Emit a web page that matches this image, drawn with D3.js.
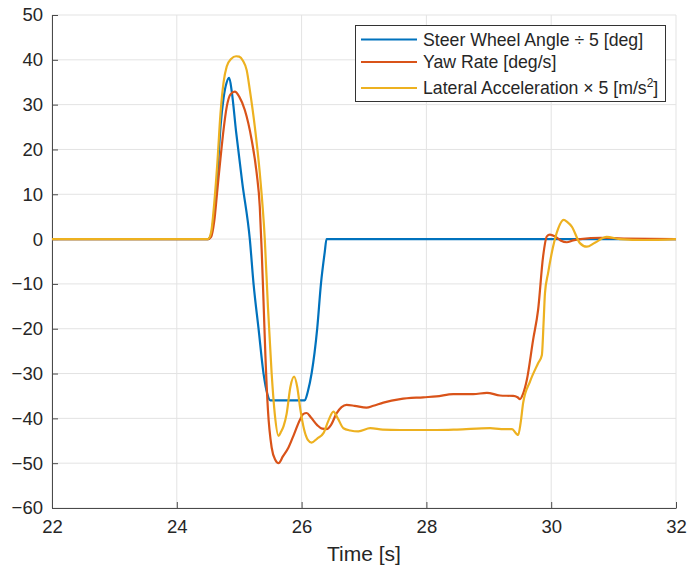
<!DOCTYPE html>
<html>
<head>
<meta charset="utf-8">
<script src="https://cdn.jsdelivr.net/npm/d3@7/dist/d3.min.js"></script>
<style>
  html, body { margin: 0; padding: 0; background: #fff; }
  svg { display: block; font-family: "Liberation Sans", Arial, Helvetica, sans-serif; }
</style>
</head>
<body>
<svg id="chart" width="688" height="572"></svg>
<script>
// Time stamps [s] and values for each signal
const steerT = [22, 24.5, 24.55, 24.6, 24.65, 24.7, 24.75, 24.8, 24.84, 24.88, 24.95, 25.05, 25.17, 25.23, 25.31, 25.39, 25.45, 25.5, 26.05, 26.1, 26.16, 26.25, 26.31, 26.37, 26.4, 32];
const steerV = [0, 0, 1, 6, 14, 25, 31.5, 35, 36, 33, 24, 12.5, 0, -10, -20, -30, -34.5, -36, -36, -34, -30, -20, -10, -3, 0, 0];

const yawT = [22, 24.5, 24.55, 24.6, 24.65, 24.7, 24.75, 24.8, 24.86, 24.93, 25.0, 25.09, 25.2, 25.28, 25.33, 25.36, 25.39, 25.42, 25.46, 25.52, 25.58, 25.63, 25.7, 25.79, 25.88, 25.97, 26.03, 26.08, 26.15, 26.25, 26.33, 26.4, 26.47, 26.56, 26.64, 26.72, 26.85, 27.04, 27.15, 27.31, 27.58, 27.95, 28.16, 28.43, 28.75, 28.97, 29.18, 29.39, 29.46, 29.5, 29.55, 29.61, 29.71, 29.79, 29.87, 29.93, 29.98, 30.06, 30.15, 30.25, 30.35, 30.47, 30.8, 31.2, 32];
const yawV = [0, 0, 0.5, 4, 11, 18, 24.5, 29.5, 32.3, 32.9, 31.8, 28.8, 22.1, 14.7, 7.2, -2.4, -14, -26, -38, -46.5, -49.3, -50, -48.5, -46.5, -43.5, -40.4, -39, -38.8, -39.8, -41.5, -42.3, -42.4, -41.5, -38.9, -37.5, -37.0, -37.2, -37.6, -37.2, -36.5, -35.7, -35.3, -35.1, -34.6, -34.6, -34.3, -34.9, -35.0, -35.3, -35.7, -34.5, -31.4, -22.5, -15.8, -3.9, 0.6, 1.0, 0.6, -0.3, -0.7, -0.3, 0, 0.3, 0.1, 0];

const latT = [22, 24.5, 24.55, 24.6, 24.65, 24.7, 24.75, 24.8, 24.87, 24.95, 25.0, 25.06, 25.12, 25.17, 25.25, 25.33, 25.41, 25.46, 25.52, 25.57, 25.63, 25.67, 25.71, 25.76, 25.82, 25.88, 25.93, 25.98, 26.04, 26.1, 26.16, 26.25, 26.35, 26.43, 26.51, 26.58, 26.67, 26.78, 26.91, 27.1, 27.3, 27.58, 28.16, 28.49, 29.02, 29.2, 29.37, 29.47, 29.51, 29.55, 29.66, 29.79, 29.85, 29.88, 29.9, 29.95, 30.03, 30.11, 30.2, 30.26, 30.33, 30.46, 30.57, 30.7, 30.89, 31.1, 31.5, 32];
const latV = [0, 0, 1.5, 8, 17, 28, 35, 38.5, 40.2, 40.8, 40.7, 39.8, 37.7, 33.3, 25.1, 14.7, 0, -15, -30, -39, -43.9, -43, -41.8, -39, -33, -30.7, -33, -38, -42.5, -44.8, -45.4, -44.5, -43.3, -40.5, -38.5, -40, -42.2, -42.7, -42.9, -42.2, -42.5, -42.6, -42.6, -42.5, -42.2, -42.4, -42.4, -43.7, -41, -36.6, -31.8, -27.7, -25.9, -18, -12.1, -7.6, -1.7, 2.3, 4.3, 3.8, 2.8, -0.9, -1.7, -0.8, 0.5, 0, -0.2, 0];

const xTicks = [22, 24, 26, 28, 30, 32];
const yTicks = [-60, -50, -40, -30, -20, -10, 0, 10, 20, 30, 40, 50];

const seriesNames = ["Steer Wheel Angle \u00F7 5 [deg]", "Yaw Rate [deg/s]", "Lateral Acceleration \u00D7 5 [m/s", "2", "]"];
const seriesColors = ["#0072BD", "#D95319", "#EDB120"];

const svg = d3.select("#chart");
const margin = { left: 52, right: 12, top: 15, bottom: 64 };
const W = 688, H = 572;

const x = d3.scaleLinear().domain([22, 32]).range([margin.left, W - margin.right]);
const y = d3.scaleLinear().domain([-60, 50]).range([H - margin.bottom, margin.top]);

// grid
const grid = svg.append("g");
grid.selectAll("line.gx").data(xTicks).join("line")
  .attr("x1", d => x(d)).attr("x2", d => x(d))
  .attr("y1", y(-60)).attr("y2", y(50))
  .attr("stroke", "#e3e3e3").attr("stroke-width", 1);
grid.selectAll("line.gy").data(yTicks).join("line")
  .attr("y1", d => y(d)).attr("y2", d => y(d))
  .attr("x1", x(22)).attr("x2", x(32))
  .attr("stroke", "#e3e3e3").attr("stroke-width", 1);

// axes
const xAxis = d3.axisBottom(x).tickValues(xTicks).tickSizeInner(-6).tickSizeOuter(0).tickPadding(12).tickFormat(d3.format("d"));
const yAxis = d3.axisLeft(y).tickValues(yTicks).tickSizeInner(-6).tickSizeOuter(0).tickPadding(9).tickFormat(d3.format("d"));

const gx = svg.append("g").attr("transform", `translate(0,${y(-60)})`).call(xAxis);
const gy = svg.append("g").attr("transform", `translate(${x(22)},0)`).call(yAxis);
[gx, gy].forEach(g => {
  g.select(".domain").attr("stroke", "#4a4a4a").attr("stroke-width", 1);
  g.selectAll(".tick line").attr("stroke", "#4a4a4a");
  g.selectAll(".tick text").attr("fill", "#262626").attr("font-size", 18.5)
    .attr("font-family", "'Liberation Sans', Arial, sans-serif");
});

svg.append("text")
  .attr("x", (x(22) + x(32)) / 2).attr("y", 561)
  .attr("text-anchor", "middle").attr("fill", "#262626").attr("font-size", 21)
  .text("Time [s]");

// lines
const series = [
  { t: steerT, v: steerV },
  { t: yawT, v: yawV },
  { t: latT, v: latV }
];
const line = d3.line().x(d => x(d[0])).y(d => y(d[1])).curve(d3.curveMonotoneX);
const plot = svg.append("g");
series.forEach((s, i) => {
  const pts = s.t.map((t, k) => [t, s.v[k]]);
  plot.append("path").datum(pts)
    .attr("d", line)
    .attr("fill", "none")
    .attr("stroke", seriesColors[i])
    .attr("stroke-width", 2.2)
    .attr("stroke-linejoin", "round");
});

// legend
const lg = svg.append("g");
lg.append("rect").attr("x", 355.5).attr("y", 25.5).attr("width", 310).attr("height", 76)
  .attr("fill", "#fff").attr("stroke", "#333").attr("stroke-width", 1);
const rowsY = [39.5, 62, 88];
rowsY.forEach((ry, i) => {
  lg.append("line").attr("x1", 361).attr("x2", 417).attr("y1", ry).attr("y2", ry)
    .attr("stroke", seriesColors[i]).attr("stroke-width", 2.2);
});
const tf = { "fill": "#262626", "font-size": 17.7 };
lg.append("text").attr("x", 423).attr("y", rowsY[0] + 6).attr("fill", tf.fill).attr("font-size", tf["font-size"]).text(seriesNames[0]);
lg.append("text").attr("x", 423).attr("y", rowsY[1] + 6).attr("fill", tf.fill).attr("font-size", tf["font-size"]).text(seriesNames[1]);
const t3 = lg.append("text").attr("x", 423).attr("y", rowsY[2] + 6).attr("fill", tf.fill).attr("font-size", tf["font-size"]);
t3.append("tspan").text(seriesNames[2]);
t3.append("tspan").attr("dy", -7).attr("font-size", 12).text(seriesNames[3]);
t3.append("tspan").attr("dy", 7).text(seriesNames[4]);
</script>
</body>
</html>
